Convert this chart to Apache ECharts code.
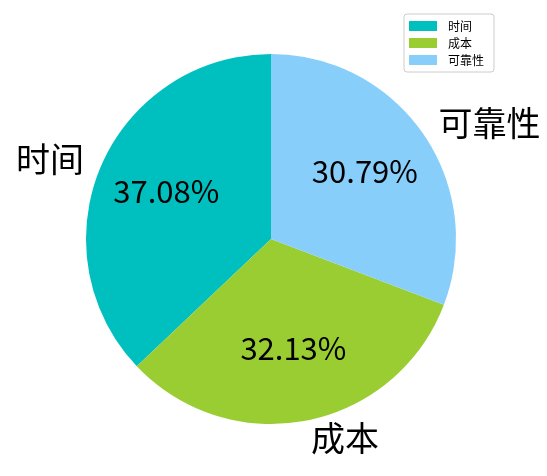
<!DOCTYPE html>
<html><head><meta charset="utf-8">
<script src="https://cdn.jsdelivr.net/npm/echarts@6/dist/echarts.min.js"></script>
<style>html,body{margin:0;padding:0;background:#fff}#c{width:547px;height:476px}</style>
</head><body><div id="c"></div>
<script>
const categories = ['时间', '成本', '可靠性'];
const values = [37.08, 32.13, 30.79];
const colors = ['#00BFBF', '#9ACD32', '#87CEFA'];

const FONT = 'Noto Sans CJK SC';
const R = 185;
const data = categories.map((n, i) => ({ name: n, value: values[i], itemStyle: { color: colors[i] } }));

const chart = echarts.init(document.getElementById('c'));
chart.setOption({
  backgroundColor: '#fff',
  animation: false,
  legend: {
    orient: 'vertical', left: 404, top: 14,
    itemWidth: 28, itemHeight: 10, itemGap: 5,
    padding: [6, 10, 6, 5],
    borderColor: '#cccccc', borderWidth: 1, borderRadius: 3,
    icon: 'rect',
    textStyle: { fontFamily: FONT, fontSize: 12, color: '#000', padding: [0, 0, 0, 6] },
    data: categories
  },
  series: [
    {
      type: 'pie', center: [271, 239], radius: [0, R],
      startAngle: 90, clockwise: false, avoidLabelOverlap: false,
      data: data, silent: true,
      label: { show: true, position: 'outside', formatter: '{b}', fontFamily: FONT, fontSize: 34, color: '#000', distanceToLabelLine: 0 },
      labelLine: { show: false, length: 18.5, length2: 0 }
    },
    {
      type: 'pie', center: [271, 239], radius: [0, R * 1.2],
      startAngle: 90, clockwise: false, avoidLabelOverlap: false, silent: true,
      data: categories.map((n, i) => ({ name: n, value: values[i], itemStyle: { color: 'rgba(0,0,0,0)' } })),
      label: { show: true, position: 'inside', formatter: p => p.value.toFixed(2) + '%', fontFamily: FONT, fontSize: 31, color: '#000', offset: [0, -3] },
      labelLine: { show: false }
    }
  ]
});
</script></body></html>
